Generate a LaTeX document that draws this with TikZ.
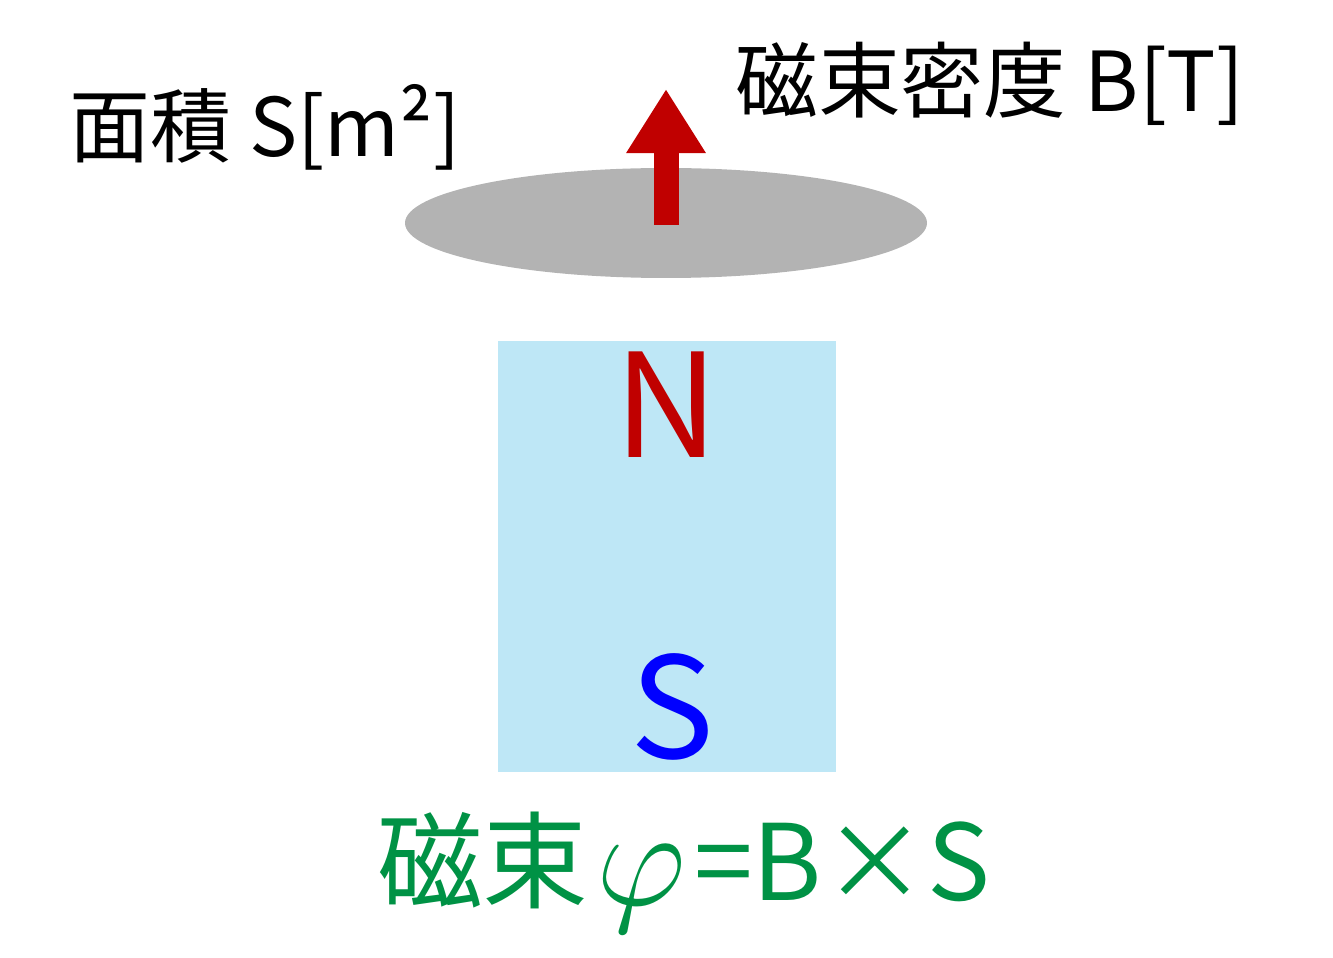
\documentclass[tikz,border=0pt]{standalone}
\usepackage{fontspec}
\setmainfont{Noto Sans CJK JP}
\usetikzlibrary{arrows.meta}

\definecolor{fluxred}{RGB}{192,0,0}
\definecolor{magblue}{RGB}{190,231,246}
\definecolor{fluxgreen}{RGB}{0,146,69}
\definecolor{plategray}{RGB}{179,179,179}

\begin{document}
\begin{tikzpicture}[x=0.01cm,y=-0.01cm]
    \useasboundingbox (0,0) rectangle (1333,958);

    \fill[plategray] (666,223) ellipse [x radius=261,y radius=55];
    \fill[magblue] (498,341) rectangle (836,772);

    \coordinate (tail) at (666,225);
    \coordinate (tip) at (666,89);
    \draw[fluxred,line width=0.25cm,-{Triangle[length=0.64cm,width=0.75cm]}] (tail) -- (tip);

    \node[fluxred,font=\fontsize{41}{41}\selectfont] (N) at (667,405) {N};
    \node[blue,font=\fontsize{40}{40}\selectfont] (S) at (672,707) {S};

    \node[font=\fontsize{23}{23}\selectfont] (area) at (265,127) {面積 S[m²]};
    \node[font=\fontsize{23.5}{23.5}\selectfont] (density) at (990,84) {磁束密度 B[T]};
    \node[fluxgreen,font=\fontsize{30}{30}\selectfont] (flux) at (684,872)
        {磁束\hspace{0.08cm}\raisebox{-0.05cm}{\scalebox{1.6}{$\varphi$}}\hspace{0.08cm}=B×S};
\end{tikzpicture}
\end{document}
